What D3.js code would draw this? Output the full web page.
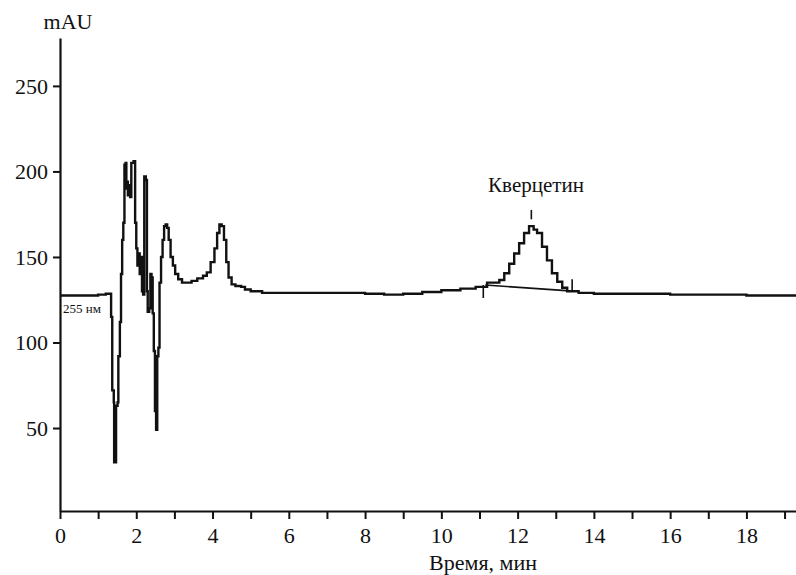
<!DOCTYPE html>
<html>
<head>
<meta charset="utf-8">
<script src="https://cdn.jsdelivr.net/npm/d3@7"></script>
<style>
  body { margin: 0; background: #fff; }
  svg text { font-family: "Liberation Serif", "Times New Roman", "Tinos", "DejaVu Serif", serif !important; fill: #111; }
</style>
</head>
<body>
<div id="chart"></div>
<script>
// ---- data ----
const times = [
  0, 0.5, 1.0, 1.2, 1.33, 1.34, 1.37, 1.41, 1.42, 1.46, 1.47, 1.51, 1.53, 1.57, 1.60, 1.63, 1.66,
  1.69, 1.72, 1.74, 1.76, 1.78, 1.81, 1.84, 1.87, 1.93, 1.97, 2.00, 2.03, 2.06, 2.09, 2.12, 2.15,
  2.18, 2.21, 2.25, 2.28, 2.30, 2.34, 2.37, 2.40, 2.43, 2.46, 2.49, 2.52, 2.55, 2.58, 2.61, 2.65,
  2.69, 2.73, 2.77, 2.81, 2.85, 2.90, 2.96, 3.02, 3.1, 3.2, 3.3, 3.45, 3.6, 3.75, 3.85, 3.95, 4.05,
  4.12, 4.18, 4.24, 4.30, 4.36, 4.42, 4.50, 4.60, 4.75, 4.85, 5.0, 5.3, 6, 7, 7.5, 8.0, 8.5, 9.0,
  9.5, 10.0, 10.5, 10.9, 11.2, 11.52, 11.65, 11.78, 11.91, 12.04, 12.17, 12.3, 12.42, 12.51, 12.64,
  12.77, 12.9, 13.04, 13.17, 13.3, 13.6, 14, 15, 16, 17, 18, 19.3
];
const signal = [
  127.5, 127.5, 128, 128.5, 128.5, 115, 72, 65, 30, 30, 63, 65, 92, 112, 140, 160, 170,
  204, 205, 190, 194, 186, 192, 185, 205, 206, 170, 155, 145, 152, 140, 150, 130,
  128, 197, 195, 130, 118, 120, 140, 138, 117, 95, 60, 49, 92, 97, 135, 150,
  160, 168, 169, 167, 160, 150, 145, 140, 137, 135, 135, 136, 137.5, 139, 141, 147, 155,
  164, 169, 168, 160, 147, 138, 134, 133, 132.5, 131, 130, 129, 129, 129, 129, 128.5, 128, 128.5,
  129.5, 130.5, 131.5, 132.5, 135, 136.5, 140.5, 146, 152, 158, 164, 168, 166, 164, 156,
  148, 140.5, 135.5, 132, 130, 129, 128.5, 128.5, 128, 128, 127.5, 127
];
// integration baseline under the quercetin peak
const baseTimes = [11.15, 13.27];
const baseValues = [133.6, 130.3];
// integration marks: [time, from, to]
const marks = [[11.1, 133.6, 126], [13.43, 129.5, 137], [12.36, 172, 177.5]];

const xTicks = d3.range(0, 20, 1);
const xLabels = d3.range(0, 20, 2);
const yTicks = [50, 100, 150, 200, 250];

// ---- layout ----
const W = 796, H = 575;
const svg = d3.select("#chart").append("svg").attr("width", W).attr("height", H);

const x = d3.scaleLinear().domain([0, 19.3]).range([60, 796]);
const y = d3.scaleLinear().domain([1.5, 278]).range([511, 38]);

// axes
const xAxis = svg.append("g").attr("transform", "translate(0,511)")
  .call(d3.axisBottom(x).tickValues(xTicks).tickSize(8).tickSizeOuter(0)
    .tickFormat(d => xLabels.includes(d) ? d : ""));
const yAxis = svg.append("g").attr("transform", "translate(60,0)")
  .call(d3.axisLeft(y).tickValues(yTicks).tickSize(7).tickSizeOuter(0));

[xAxis, yAxis].forEach(g => {
  g.attr("font-family", null);
  g.select(".domain").attr("stroke", "#111").attr("stroke-width", 2.2);
  g.selectAll(".tick line").attr("stroke", "#111").attr("stroke-width", 2);
  g.selectAll(".tick text").style("font-size", "22px").attr("fill", "#111");
});
xAxis.selectAll(".tick text").attr("dy", null).attr("y", 32);
yAxis.selectAll(".tick text").attr("x", -12).attr("dy", "0.34em");

// trace
const line = d3.line().x(d => x(d[0])).y(d => y(d[1])).curve(d3.curveStepAfter);
svg.append("path")
  .datum(times.map((t, i) => [t, signal[i]]))
  .attr("d", line)
  .attr("fill", "none").attr("stroke", "#111").attr("stroke-width", 2.4)
  .attr("stroke-linejoin", "miter");

svg.append("path")
  .datum(baseTimes.map((t, i) => [t, baseValues[i]]))
  .attr("d", d3.line().x(d => x(d[0])).y(d => y(d[1])))
  .attr("fill", "none").attr("stroke", "#111").attr("stroke-width", 1.6);

svg.selectAll(".mark").data(marks).enter().append("line")
  .attr("x1", d => x(d[0])).attr("x2", d => x(d[0]))
  .attr("y1", d => y(d[1])).attr("y2", d => y(d[2]))
  .attr("stroke", "#111").attr("stroke-width", 1.6);

// texts
svg.append("text").attr("x", 68).attr("y", 29).attr("text-anchor", "middle")
  .style("font-size", "22px").text("mAU");
svg.append("text").attr("x", 483).attr("y", 570).attr("text-anchor", "middle")
  .style("font-size", "22px").text("Время, мин");
svg.append("text").attr("x", 536).attr("y", 192).attr("text-anchor", "middle")
  .style("font-size", "21px").text("Кверцетин");
svg.append("text").attr("x", 63).attr("y", 313)
  .style("font-size", "13px").text("255 нм");
</script>
</body>
</html>
